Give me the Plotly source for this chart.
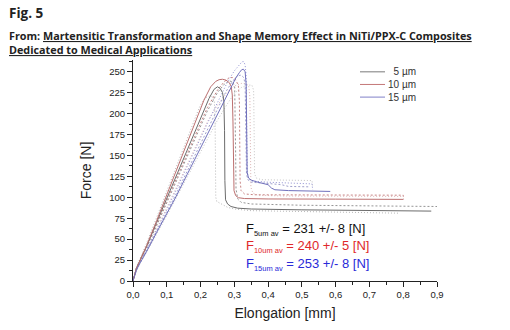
import plotly.graph_objects as go

# ---------------- data ----------------
# 5 um, solid
s5_x = [0, 0.005, 0.01, 0.02, 0.04, 0.07, 0.10, 0.13, 0.16, 0.19, 0.21, 0.225, 0.24, 0.25, 0.258, 0.265, 0.269,
        0.271, 0.272, 0.274, 0.28, 0.29, 0.31, 0.35, 0.50, 0.70, 0.883]
s5_y = [0, 9, 15, 24, 41, 70, 99, 128, 157, 186, 205, 218, 229, 232, 230, 225, 215,
        180, 120, 97, 92, 89, 87, 86, 85, 84.3, 83.5]
# 10 um, solid
s10_x = [0, 0.005, 0.01, 0.02, 0.04, 0.07, 0.10, 0.13, 0.16, 0.19, 0.21, 0.23, 0.245, 0.255, 0.265, 0.275, 0.285,
         0.291, 0.294, 0.296, 0.297, 0.299, 0.304, 0.312, 0.33, 0.40, 0.60, 0.80]
s10_y = [0, 9, 15, 24, 42, 72, 103, 134, 165, 196, 216, 232, 238.5, 240.5, 241, 240, 237,
         232, 222, 190, 140, 108, 102, 99.5, 98.5, 98, 97.8, 97.5]
# 15 um, solid
s15_x = [0, 0.005, 0.01, 0.02, 0.04, 0.07, 0.10, 0.125, 0.16, 0.19, 0.22, 0.25, 0.273, 0.29, 0.305, 0.315, 0.322,
         0.327, 0.332, 0.335, 0.336, 0.337, 0.338, 0.342, 0.35, 0.37, 0.40, 0.41, 0.42, 0.46, 0.52, 0.584]
s15_y = [0, 8, 13, 21, 35, 58, 80, 99, 127, 151, 175, 199, 217, 232, 243, 249, 252.5,
         253, 250, 235, 200, 150, 130, 123, 120.5, 118, 115, 111, 109, 108, 107.5, 107]
# 5 um, other specimens
d5a_x = [0, 0.005, 0.01, 0.02, 0.04, 0.07, 0.10, 0.13, 0.16, 0.18, 0.195, 0.205, 0.215, 0.225, 0.235, 0.241,
         0.243, 0.244, 0.245, 0.248, 0.26, 0.28, 0.30, 0.35, 0.50, 0.65, 0.79]
d5a_y = [0, 10, 16, 26, 45, 76, 107, 138, 170, 190, 206, 214, 219, 221, 220, 214,
         190, 150, 100, 95, 92, 88, 86, 84, 83, 82, 81]
d5b_x = [0, 0.005, 0.01, 0.02, 0.04, 0.07, 0.10, 0.13, 0.16, 0.19, 0.22, 0.25, 0.27, 0.285, 0.295, 0.301,
         0.303, 0.304, 0.305, 0.31, 0.32, 0.35, 0.50, 0.70, 0.90]
d5b_y = [0, 9, 15, 24, 40, 66, 93, 120, 148, 176, 203, 225, 235, 239, 238, 232,
         200, 150, 110, 98, 94, 92, 90.5, 89.5, 89]
d5c_x = [0, 0.005, 0.01, 0.02, 0.04, 0.07, 0.10, 0.13, 0.16, 0.19, 0.22, 0.25, 0.28, 0.30, 0.32, 0.34, 0.352,
         0.357, 0.358, 0.359, 0.36, 0.365, 0.38, 0.45, 0.53, 0.532]
d5c_y = [0, 7, 12, 20, 34, 56, 78, 101, 124, 147, 170, 192, 212, 224, 231, 234, 234,
         228, 200, 150, 128, 123, 121, 120.5, 120, 112]
# 10 um, other specimens
d10a_x = [0, 0.005, 0.01, 0.02, 0.04, 0.07, 0.10, 0.13, 0.16, 0.19, 0.22, 0.25, 0.27, 0.285, 0.295, 0.305,
          0.312, 0.315, 0.316, 0.317, 0.32, 0.33, 0.36, 0.50, 0.80, 0.801]
d10a_y = [0, 9, 15, 24, 41, 68, 96, 124, 152, 180, 207, 228, 238, 243, 243, 240,
          233, 215, 160, 120, 108, 104, 103, 102.6, 102.5, 97.5]
d10b_x = [0, 0.005, 0.01, 0.02, 0.04, 0.07, 0.10, 0.13, 0.16, 0.19, 0.22, 0.25, 0.28, 0.30, 0.32, 0.335,
          0.343, 0.346, 0.347, 0.349, 0.355, 0.37, 0.45, 0.60, 0.80]
d10b_y = [0, 8, 14, 22, 37, 62, 88, 114, 140, 166, 190, 210, 226, 233, 236, 236,
          232, 220, 150, 112, 105, 102.5, 101.5, 101, 101]
# 15 um, other specimens
d15a_x = [0, 0.005, 0.01, 0.02, 0.04, 0.07, 0.10, 0.13, 0.16, 0.19, 0.22, 0.25, 0.28, 0.30, 0.315, 0.323,
          0.328, 0.332, 0.335, 0.336, 0.337, 0.338, 0.342, 0.35, 0.40, 0.45, 0.53, 0.532]
d15a_y = [0, 8, 14, 22, 37, 61, 85, 110, 136, 162, 188, 214, 238, 251, 259, 262,
          262, 258, 245, 200, 150, 130, 122, 119.5, 118, 117, 116, 109]
d15b_x = [0, 0.005, 0.01, 0.02, 0.04, 0.07, 0.10, 0.13, 0.16, 0.19, 0.22, 0.25, 0.275, 0.295, 0.31, 0.32,
          0.328, 0.332, 0.333, 0.334, 0.336, 0.34, 0.35, 0.40, 0.44, 0.46, 0.52]
d15b_y = [0, 8, 13, 21, 36, 59, 82, 106, 131, 156, 181, 206, 226, 239, 245, 246,
          243, 235, 200, 150, 128, 121, 118, 116.5, 115, 113, 112.5]

series = [
    # (x, y, color, dash)
    (d5a_x, d5a_y, "#b8b8b8", "1px,2px"),
    (d5c_x, d5c_y, "#c4c4c4", "1px,2px"),
    (d5b_x, d5b_y, "#959595", "2px,2px"),
    (d10b_x, d10b_y, "#dcb4b4", "1px,2px"),
    (d10a_x, d10a_y, "#c88484", "2px,2px"),
    (d15b_x, d15b_y, "#a0a0cc", "2px,2px"),
    (d15a_x, d15a_y, "#9090d2", "1px,2px"),
    (s5_x, s5_y, "#6c6c6c", "solid"),
    (s10_x, s10_y, "#bc7070", "solid"),
    (s15_x, s15_y, "#7070bc", "solid"),
]

legend_names = ["\u20075 µm", "10 µm", "15 µm"]
legend_colors = ["#7a7a7a", "#c47878", "#8080c8"]

stats_labels = ["5um av", "10um av", "15um av"]
stats_values = ["231 +/- 8 [N]", "240 +/- 5 [N]", "253 +/- 8 [N]"]
stats_colors = ["#111111", "#e0282a", "#2a2ad8"]

x_ticks = [0, 0.1, 0.2, 0.3, 0.4, 0.5, 0.6, 0.7, 0.8, 0.9]
y_ticks = [0, 25, 50, 75, 100, 125, 150, 175, 200, 225, 250]

# ---------------- figure ----------------
fig = go.Figure()
for xs, ys, col, dash in series:
    fig.add_trace(go.Scatter(x=xs, y=ys, mode="lines",
                             line=dict(color=col, width=1, dash=dash),
                             showlegend=False, hoverinfo="skip"))

L, R, T, B = 133, 73, 60, 46
W, H = 510, 330
pw, ph = W - L - R, H - T - B

def px(xp):
    return (xp - L) / pw

def py(yp):
    return (H - B - yp) / ph

axis_font = dict(family="Liberation Sans, Arial, sans-serif", size=9.5, color="#222")
fig.update_layout(
    width=W, height=H,
    margin=dict(l=L, r=R, t=T, b=B),
    paper_bgcolor="white", plot_bgcolor="white",
    separators=",.",
    showlegend=False,
    xaxis=dict(range=[0, 0.9], tickvals=x_ticks, tickformat=".1f",
               showline=True, linecolor="#222", linewidth=1, mirror=False,
               ticks="outside", ticklen=5, tickcolor="#222", showgrid=False, zeroline=False,
               minor=dict(dtick=0.05, ticklen=3, ticks="outside", tickcolor="#222", showgrid=False),
               tickfont=axis_font,
               title=dict(text="Elongation [mm]", standoff=8,
                          font=dict(family="Liberation Sans, Arial, sans-serif", size=14, color="#222"))),
    yaxis=dict(range=[0, 264], tickvals=y_ticks,
               showline=True, linecolor="#222", linewidth=1, mirror=False,
               ticks="outside", ticklen=5, tickcolor="#222", showgrid=False, zeroline=False,
               minor=dict(dtick=12.5, ticklen=3, ticks="outside", tickcolor="#222", showgrid=False),
               tickfont=axis_font,
               title=dict(text="Force [N]", standoff=14,
                          font=dict(family="Liberation Sans, Arial, sans-serif", size=14, color="#222"))),
)

# header texts
fig.add_annotation(xref="paper", yref="paper", x=px(7), y=py(12), xanchor="left", yanchor="middle",
                   text="<b>Fig. 5</b>", showarrow=False,
                   font=dict(family="Open Sans, sans-serif", size=13.5, color="#222"))
fig.add_annotation(xref="paper", yref="paper", x=px(7), y=py(26), xanchor="left", yanchor="top",
                   align="left", showarrow=False,
                   text="<b>From: <u>Martensitic Transformation and Shape Memory Effect in NiTi/PPX-C Composites</u>"
                        "<br><u>Dedicated to Medical Applications</u></b>",
                   font=dict(family="Open Sans, sans-serif", size=10.8, color="#222"))

# legend drawn as shapes + text
for i, (nm, col) in enumerate(zip(legend_names, legend_colors)):
    yy = py(72 + i * 12.8)
    fig.add_shape(type="line", xref="paper", yref="paper", x0=px(360), x1=px(385), y0=yy, y1=yy,
                  line=dict(color=col, width=1))
    fig.add_annotation(xref="paper", yref="paper", x=px(418), y=yy, xanchor="right", yanchor="middle",
                       text=nm, showarrow=False,
                       font=dict(family="Liberation Sans, Arial, sans-serif", size=10, color="#333"))

# statistics text
for i, (lab, val, col) in enumerate(zip(stats_labels, stats_values, stats_colors)):
    yy = py(232 + i * 17.5)
    fig.add_annotation(xref="paper", yref="paper", x=px(244), y=yy, xanchor="left", yanchor="middle",
                       text="F<sub><span style='font-size:7.5px'>%s</span></sub> = %s" % (lab, val),
                       showarrow=False,
                       font=dict(family="Liberation Sans, Arial, sans-serif", size=13, color=col))

fig.write_html("out.html")
